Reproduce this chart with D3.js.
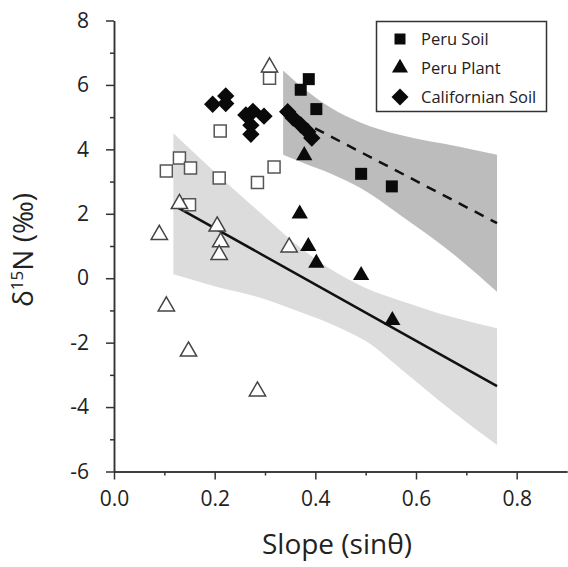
<!DOCTYPE html>
<html>
<head>
<meta charset="utf-8">
<script src="https://cdn.jsdelivr.net/npm/d3@7"></script>
<style>
  body { margin: 0; background: #fff; }
  svg { display: block; font-family: "Open Sans", sans-serif; }
</style>
</head>
<body>
<svg width="568" height="567"></svg>
<script>
// filled symbols (legend series)
const peruSoilX = [0.371, 0.387, 0.402, 0.491, 0.552];
const peruSoilY = [5.85, 6.18, 5.25, 3.24, 2.85];
const peruPlantX = [0.378, 0.369, 0.386, 0.402, 0.491, 0.553];
const peruPlantY = [3.81, 2.00, 0.99, 0.47, 0.09, -1.31];
const calSoilX = [0.196, 0.222, 0.222, 0.262, 0.276, 0.298, 0.272, 0.272, 0.345, 0.356, 0.371, 0.385, 0.393];
const calSoilY = [5.40, 5.66, 5.42, 5.07, 5.18, 5.03, 4.75, 4.47, 5.17, 4.97, 4.76, 4.55, 4.35];

// open symbols
const openSoilX = [0.309, 0.211, 0.104, 0.130, 0.152, 0.209, 0.285, 0.318, 0.150];
const openSoilY = [6.21, 4.57, 3.33, 3.73, 3.42, 3.11, 2.97, 3.45, 2.28];
const openPlantX = [0.309, 0.130, 0.090, 0.205, 0.212, 0.209, 0.348, 0.104, 0.148, 0.285];
const openPlantY = [6.55, 2.31, 1.35, 1.61, 1.12, 0.73, 0.96, -0.87, -2.27, -3.51];

// regression lines
const plantLineX = [0.118, 0.761];
const plantLineY = [2.27, -3.35];
const soilLineX = [0.336, 0.761];
const soilLineY = [5.17, 1.71];

// confidence bands
const plantBandX = [0.118, 0.2, 0.3, 0.37, 0.45, 0.5, 0.58, 0.67, 0.761];
const plantBandUp = [4.5, 3.3, 1.9, 0.95, 0.1, -0.3, -0.75, -1.2, -1.55];
const plantBandLo = [0.12, -0.25, -0.65, -1.05, -1.55, -1.95, -2.95, -4.1, -5.18];
const soilBandX = [0.336, 0.38, 0.43, 0.487, 0.567, 0.686, 0.761];
const soilBandUp = [6.45, 5.85, 5.3, 4.85, 4.45, 4.08, 3.83];
const soilBandLo = [3.83, 3.55, 3.25, 2.82, 1.98, 0.6, -0.42];

const xTicks = [0, 0.2, 0.4, 0.6, 0.8];
const xMinor = [0.1, 0.3, 0.5, 0.7];
const yTicks = [-6, -4, -2, 0, 2, 4, 6, 8];
const yMinor = [-5, -3, -1, 1, 3, 5, 7];

const legendNames = ['Peru Soil', 'Peru Plant', 'Californian Soil'];

const svg = d3.select('svg');

const x = d3.scaleLinear().domain([0, 0.9]).range([114, 567]);
const y = d3.scaleLinear().domain([-6, 8]).range([471.5, 20.5]);

const zip = (xs, ys) => xs.map((v, i) => [v, ys[i]]);

// bands
const area = d3.area()
    .x(d => x(d[0]))
    .y0(d => y(d[1]))
    .y1(d => y(d[2]))
    .curve(d3.curveMonotoneX);

svg.append('path')
    .datum(plantBandX.map((v, i) => [v, plantBandLo[i], plantBandUp[i]]))
    .attr('d', area)
    .attr('fill', '#dcdcdc');

svg.append('path')
    .datum(soilBandX.map((v, i) => [v, soilBandLo[i], soilBandUp[i]]))
    .attr('d', area)
    .attr('fill', '#bcbcbc');

// lines
const line = d3.line().x(d => x(d[0])).y(d => y(d[1]));

svg.append('path')
    .datum(zip(plantLineX, plantLineY))
    .attr('d', line)
    .attr('fill', 'none')
    .attr('stroke', '#111')
    .attr('stroke-width', 2.5);

svg.append('path')
    .datum(zip(soilLineX, soilLineY))
    .attr('d', line)
    .attr('fill', 'none')
    .attr('stroke', '#111')
    .attr('stroke-width', 2.5)
    .attr('stroke-dasharray', '10,8');

// axes
const yAxis = d3.axisLeft(y).tickValues(yTicks).tickSize(8).tickSizeOuter(0).tickPadding(17)
    .tickFormat(d => String(d));
const yAxisMinor = d3.axisLeft(y).tickValues(yMinor).tickSize(4).tickSizeOuter(0).tickFormat('');
const xAxis = d3.axisBottom(x).tickValues(xTicks).tickSize(8).tickSizeOuter(0).tickPadding(12)
    .tickFormat(d => d.toFixed(1));
const xAxisMinor = d3.axisBottom(x).tickValues(xMinor).tickSize(4).tickSizeOuter(0).tickFormat('');

const styleAxis = g => {
    g.select('.domain').attr('stroke', '#333').attr('stroke-width', 1.5);
    g.selectAll('line').attr('stroke', '#333').attr('stroke-width', 1.5);
    g.selectAll('text').attr('fill', '#222').style('font-size', '21px')
        .style('font-family', '"Open Sans", sans-serif');
};

svg.append('g').attr('transform', `translate(${x(0)},0)`).call(yAxisMinor).call(styleAxis);
svg.append('g').attr('transform', `translate(${x(0)},0)`).call(yAxis).call(styleAxis);
svg.append('g').attr('transform', `translate(0,${y(-6)})`).call(xAxisMinor).call(styleAxis);
svg.append('g').attr('transform', `translate(0,${y(-6)})`).call(xAxis).call(styleAxis);

// symbols
const sq = d3.symbol().type(d3.symbolSquare).size(144)();
const tri = d3.symbol().type(d3.symbolTriangle).size(115)();
const dia = d3.symbol().type(d3.symbolSquare).size(150)();

const drawPts = (xs, ys, path, fill, stroke, rot) => {
    svg.append('g').selectAll('path')
        .data(zip(xs, ys))
        .join('path')
        .attr('d', path)
        .attr('transform', d => `translate(${x(d[0])},${y(d[1])})` + (rot ? ' rotate(45)' : ''))
        .attr('fill', fill)
        .attr('stroke', stroke)
        .attr('stroke-width', stroke === 'none' ? 0 : 1.5);
};

drawPts(openSoilX, openSoilY, sq, '#fff', '#555');
drawPts(openPlantX, openPlantY, tri, '#fff', '#444');
drawPts(peruSoilX, peruSoilY, sq, '#0a0a0a', 'none');
drawPts(peruPlantX, peruPlantY, tri, '#0a0a0a', 'none');
drawPts(calSoilX, calSoilY, dia, '#0a0a0a', 'none', true);

// legend
const legend = svg.append('g');
legend.append('rect')
    .attr('x', 376.5).attr('y', 21.5)
    .attr('width', 170).attr('height', 90)
    .attr('fill', '#fff')
    .attr('stroke', '#333')
    .attr('stroke-width', 1.5);

const legendSyms = [
    { path: d3.symbol().type(d3.symbolSquare).size(121)(), rot: false },
    { path: d3.symbol().type(d3.symbolTriangle).size(111)(), rot: false },
    { path: d3.symbol().type(d3.symbolSquare).size(144)(), rot: true }
];
const legendY = [39, 68, 97];

legendNames.forEach((name, i) => {
    legend.append('path')
        .attr('d', legendSyms[i].path)
        .attr('transform', `translate(400,${legendY[i]})` + (legendSyms[i].rot ? ' rotate(45)' : ''))
        .attr('fill', '#0a0a0a');
    legend.append('text')
        .attr('x', 421).attr('y', legendY[i] + 6)
        .attr('fill', '#222')
        .style('font-size', '16.5px')
        .text(name);
});

// axis titles
svg.append('text')
    .attr('x', 337).attr('y', 554)
    .attr('text-anchor', 'middle')
    .attr('fill', '#222')
    .style('font-size', '28px')
    .text('Slope (sinθ)');

const yt = svg.append('text')
    .attr('transform', 'translate(33,250) rotate(-90)')
    .attr('text-anchor', 'middle')
    .attr('fill', '#222')
    .style('font-size', '28px');
yt.append('tspan').text('δ');
yt.append('tspan').attr('dy', -10).style('font-size', '17px').text('15');
yt.append('tspan').attr('dy', 10).text('N (‰)');
</script>
</body>
</html>
